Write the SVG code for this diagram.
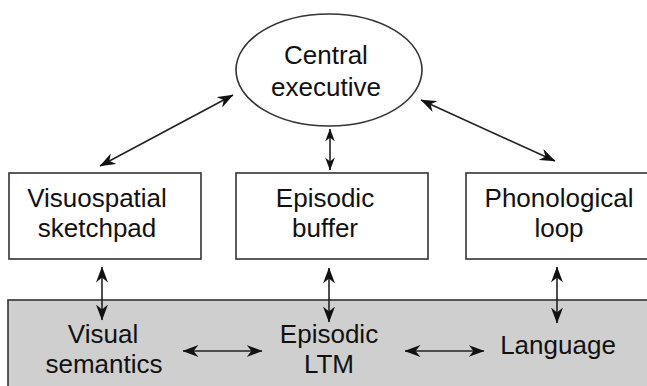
<svg xmlns="http://www.w3.org/2000/svg" width="647" height="386" viewBox="0 0 647 386">
<defs>
<style>
.t{font-family:"Liberation Sans",Arial,sans-serif;font-size:26px;fill:#111;text-anchor:middle}
.b{fill:#fff;stroke:#333;stroke-width:1.6}
.c{stroke:#222;stroke-width:1.6;fill:none;marker-start:url(#ah);marker-end:url(#ah)}
</style>
<marker id="ah" viewBox="0 0 16 12" refX="15.5" refY="6" markerWidth="16" markerHeight="12" markerUnits="userSpaceOnUse" orient="auto-start-reverse">
<path d="M0,0 L16,6 L0,12 L5,6 z" fill="#111"/>
</marker>
<marker id="ahs" viewBox="0 0 16 12" refX="15.5" refY="6" markerWidth="13" markerHeight="10" markerUnits="userSpaceOnUse" orient="auto-start-reverse">
<path d="M0,0 L16,6 L0,12 L5,6 z" fill="#111"/>
</marker>
</defs>
<rect width="647" height="386" fill="#fff"/>
<g id="ltm-band">
<rect x="8" y="300" width="660" height="100" fill="#cfcfcf" stroke="#333" stroke-width="1.6"/>
</g>
<g id="central-executive">
<ellipse cx="329" cy="70" rx="93" ry="56" class="b"/>
<text class="t" x="326" y="64">Central</text>
<text class="t" x="326" y="96">executive</text>
</g>
<g id="visuospatial-sketchpad">
<rect x="9" y="173" width="192" height="86" class="b"/>
<text class="t" x="97" y="207">Visuospatial</text>
<text class="t" x="97" y="237">sketchpad</text>
</g>
<g id="episodic-buffer">
<rect x="236" y="173" width="192" height="86" class="b"/>
<text class="t" x="325" y="207">Episodic</text>
<text class="t" x="325" y="237">buffer</text>
</g>
<g id="phonological-loop">
<rect x="466" y="173" width="200" height="86" class="b"/>
<text class="t" x="559" y="207">Phonological</text>
<text class="t" x="559" y="237">loop</text>
</g>
<g id="visual-semantics">
<text class="t" x="103" y="343">Visual</text>
<text class="t" x="104" y="373">semantics</text>
</g>
<g id="episodic-ltm">
<text class="t" x="329" y="343">Episodic</text>
<text class="t" x="329" y="373">LTM</text>
</g>
<g id="language">
<text class="t" x="558" y="354">Language</text>
</g>
<g id="connectors">
<line class="c" x1="100" y1="166" x2="233" y2="95"/>
<line class="c" x1="421" y1="100" x2="555" y2="161"/>
<line x1="330" y1="129" x2="330" y2="170" stroke="#222" stroke-width="1.6" marker-start="url(#ahs)" marker-end="url(#ahs)"/>
<line class="c" x1="102" y1="267" x2="102" y2="320"/>
<line class="c" x1="329" y1="268" x2="329" y2="322"/>
<line class="c" x1="557" y1="267" x2="557" y2="323"/>
<line class="c" x1="183" y1="351" x2="262" y2="351"/>
<line class="c" x1="405" y1="351" x2="484" y2="351"/>
</g>
</svg>
